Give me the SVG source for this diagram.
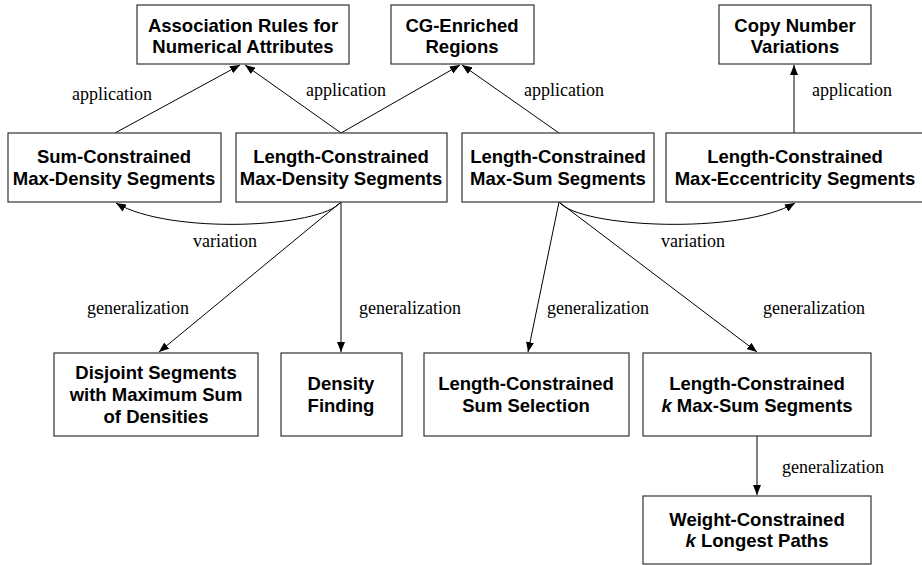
<svg xmlns="http://www.w3.org/2000/svg" width="922" height="565" viewBox="0 0 922 565">
<style>
.box{fill:#fff;stroke:#333;stroke-width:1.2}
.t{font-family:"Liberation Sans",Arial,sans-serif;font-weight:bold;font-size:18.5px;fill:#000;text-anchor:middle}
.l{font-family:"Liberation Serif","Times New Roman",serif;font-size:18px;fill:#000}
.e{fill:none;stroke:#000;stroke-width:1;marker-end:url(#ah)}
</style>
<defs>
<marker id="ah" viewBox="0 0 10 8" refX="10" refY="4" markerWidth="10" markerHeight="8" markerUnits="userSpaceOnUse" orient="auto">
<path d="M0,0 L10,4 L0,8 Z" fill="#000"/>
</marker>
</defs>
<rect width="922" height="565" fill="#fff"/>
<g id="edges">
<path class="e" d="M115,133 L240,65"/>
<path class="e" d="M341,133 L245,65"/>
<path class="e" d="M341,133 L460,65"/>
<path class="e" d="M559,133 L462,65"/>
<path class="e" d="M794,133 L794,65"/>
<path class="e" d="M341,202 C320,228 170,235 116,203"/>
<path class="e" d="M559,202 C580,228 740,235 795,203"/>
<path class="e" d="M341,202 L159,352"/>
<path class="e" d="M341,202 L341,352"/>
<path class="e" d="M559,202 L528,352"/>
<path class="e" d="M559,202 L757,352"/>
<path class="e" d="M757,436 L757,495"/>
<text class="l" x="72" y="100">application</text>
<text class="l" x="306" y="96">application</text>
<text class="l" x="524" y="96">application</text>
<text class="l" x="812" y="96">application</text>
<text class="l" x="193" y="247">variation</text>
<text class="l" x="661" y="247">variation</text>
<text class="l" x="87" y="314">generalization</text>
<text class="l" x="359" y="314">generalization</text>
<text class="l" x="547" y="314">generalization</text>
<text class="l" x="763" y="314">generalization</text>
<text class="l" x="782" y="473">generalization</text>
</g>
<g id="n_assoc"><rect class="box" x="137" y="5" width="212" height="59"/><text class="t" x="243" y="32">Association Rules for</text><text class="t" x="243" y="53">Numerical Attributes</text></g>
<g id="n_cg"><rect class="box" x="391" y="5" width="143" height="59"/><text class="t" x="462" y="32">CG-Enriched</text><text class="t" x="462" y="53">Regions</text></g>
<g id="n_cnv"><rect class="box" x="719" y="5" width="152" height="59"/><text class="t" x="795" y="32">Copy Number</text><text class="t" x="795" y="53">Variations</text></g>
<g id="n_scmd"><rect class="box" x="8" y="133" width="213" height="69"/><text class="t" x="114" y="163">Sum-Constrained</text><text class="t" x="114" y="185">Max-Density Segments</text></g>
<g id="n_lcmd"><rect class="box" x="236" y="133" width="211" height="69"/><text class="t" x="341" y="163">Length-Constrained</text><text class="t" x="341" y="185">Max-Density Segments</text></g>
<g id="n_lcms"><rect class="box" x="462" y="133" width="192" height="69"/><text class="t" x="558" y="163">Length-Constrained</text><text class="t" x="558" y="185">Max-Sum Segments</text></g>
<g id="n_lcme"><rect class="box" x="666" y="133" width="260" height="69"/><text class="t" x="795" y="163">Length-Constrained</text><text class="t" x="795" y="185">Max-Eccentricity Segments</text></g>
<g id="n_disj"><rect class="box" x="54" y="353" width="204" height="83"/><text class="t" x="156" y="379">Disjoint Segments</text><text class="t" x="156" y="401">with Maximum Sum</text><text class="t" x="156" y="423">of Densities</text></g>
<g id="n_dens"><rect class="box" x="281" y="353" width="121" height="83"/><text class="t" x="341" y="390">Density</text><text class="t" x="341" y="412">Finding</text></g>
<g id="n_lcss"><rect class="box" x="424" y="353" width="205" height="83"/><text class="t" x="526" y="390">Length-Constrained</text><text class="t" x="526" y="412">Sum Selection</text></g>
<g id="n_kms"><rect class="box" x="643" y="353" width="228" height="83"/><text class="t" x="757" y="390">Length-Constrained</text><text class="t" x="757" y="412"><tspan font-style="italic">k</tspan> Max-Sum Segments</text></g>
<g id="n_wc"><rect class="box" x="643" y="496" width="228" height="68"/><text class="t" x="757" y="526">Weight-Constrained</text><text class="t" x="757" y="547"><tspan font-style="italic">k</tspan> Longest Paths</text></g>
</svg>
